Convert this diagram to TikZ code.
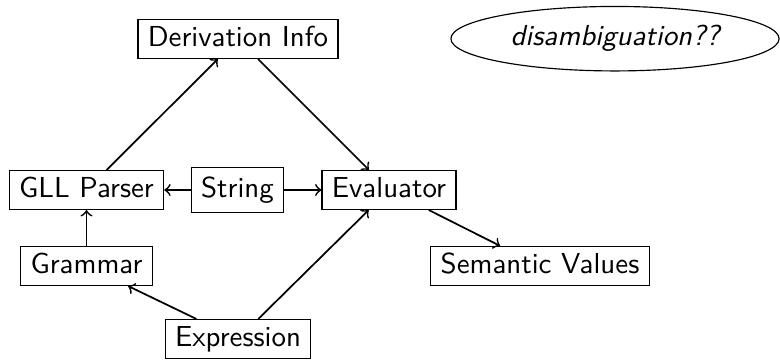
\documentclass[tikz,border=0pt]{standalone}
\usetikzlibrary{shapes.geometric}
\begin{document}
\begin{tikzpicture}[x=0.346pt, y=-0.346pt,
  box/.style={draw, rectangle, font=\sffamily, text height=6.94pt, text depth=1.94pt, inner xsep=3.4pt, inner ysep=2.3pt},
  tallbox/.style={box, inner ysep=3.4pt},
  oval/.style={draw, ellipse, font=\sffamily\itshape, inner xsep=4pt},
  conn/.style={->, semithick}]
\useasboundingbox (0,0) rectangle (780,362);
\node[box] (deriv) at (238,39) {Derivation Info};
\node[box] (gll) at (86.5,190) {GLL Parser};
\node[tallbox] (string) at (237.5,190) {String};
\node[box] (eval) at (389,190) {Evaluator};
\node[box] (grammar) at (86.5,266) {Grammar};
\node[box] (sem) at (540,266) {Semantic Values};
\node[box] (expr) at (238,339) {Expression};
\node[oval] (dis) at (615,38.7) {disambiguation??};
\draw[conn] (gll) -- (deriv);
\draw[conn] (deriv) -- (eval);
\draw[conn] (string) -- (gll);
\draw[conn] (string) -- (eval);
\draw[conn] (grammar) -- (gll);
\draw[conn] (expr) -- (grammar);
\draw[conn] (expr) -- (eval);
\draw[conn] (eval) -- (sem);
\end{tikzpicture}
\end{document}
